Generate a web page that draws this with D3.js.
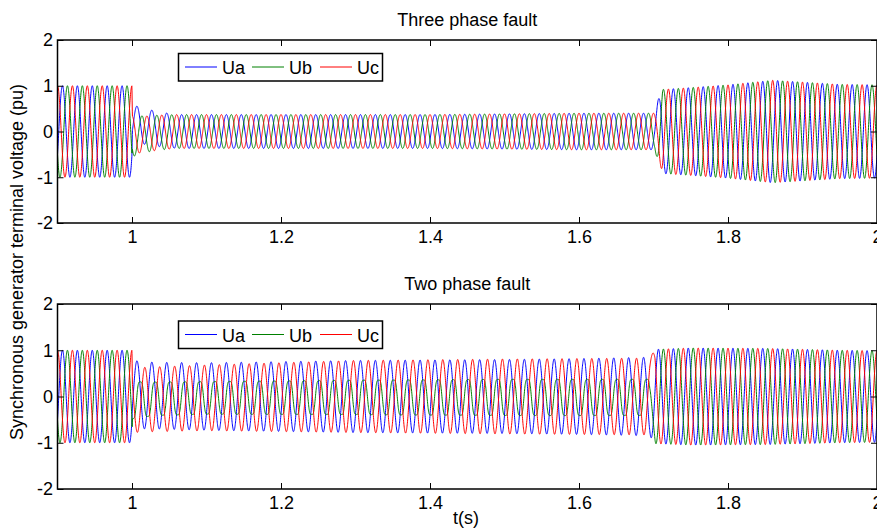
<!DOCTYPE html>
<html><head><meta charset="utf-8">
<script src="https://cdn.jsdelivr.net/npm/d3@7"></script>
<style>
body{margin:0;background:#fff}
svg{display:block}
text{font-family:Arial,"Liberation Sans",sans-serif;fill:#000}
</style>
</head><body><svg id="chart" width="877" height="531"></svg>
<script>
// ---------------- DATA ----------------
const timeRange = [0.9, 2.0];
const yRange = [-2, 2];
const freqHz = 50;
const xTicks = [1, 1.2, 1.4, 1.6, 1.8, 2];
const xTickLabels = ["1", "1.2", "1.4", "1.6", "1.8", "2"];
const yTicks = [-2, -1, 0, 1, 2];
const yTickLabels = ["-2", "-1", "0", "1", "2"];
const seriesNames = ["Ua", "Ub", "Uc"];
const seriesColors = ["#0000ff", "#008000", "#ff0000"];
const basePhaseDeg = [-120, 120, 0];
const panelTitles = ["Three phase fault", "Two phase fault"];
const xLabel = "t(s)";
const yLabel = "Synchronous generator terminal voltage (pu)";

// Three phase fault: envelope readings (peak amplitude, DC offset) per phase
const topTimes  = [0.9, 0.9999, 1.0005, 1.01, 1.02, 1.04, 1.06, 1.40, 1.60, 1.702, 1.706, 1.712, 1.75, 1.80, 1.86, 1.90, 1.95, 2.0];
const topAmpUa  = [1.0, 1.0, 0.42, 0.40, 0.39, 0.38, 0.37, 0.37, 0.40, 0.40, 0.50, 0.92, 0.96, 1.02, 1.12, 1.08, 1.03, 1.02];
const topAmpUb  = [1.0, 1.0, 0.45, 0.42, 0.40, 0.38, 0.37, 0.37, 0.40, 0.40, 0.50, 0.92, 0.96, 1.02, 1.12, 1.08, 1.03, 1.02];
const topAmpUc  = [1.0, 1.0, 0.42, 0.40, 0.39, 0.38, 0.37, 0.37, 0.40, 0.40, 0.50, 0.92, 0.96, 1.02, 1.12, 1.08, 1.03, 1.02];
const topOffUa  = [0, 0, 0.16, 0.14, 0.10, 0.04, 0, 0, 0, 0, 0.18, 0, 0, 0, 0, 0, 0, 0];
const topOffUb  = [0, 0, -0.10, -0.08, -0.05, -0.02, 0, 0, 0, 0, -0.18, 0, 0, 0, 0, 0, 0, 0];
const topOffUc  = [0, 0, -0.08, -0.07, -0.05, -0.02, 0, 0, 0, 0, 0, 0, 0, 0, 0, 0, 0, 0];

// Two phase fault: envelope readings per phase (amplitude, offset, phase shift, flat-top)
const botTimes   = [0.9, 0.9999, 1.0005, 1.03, 1.10, 1.30, 1.50, 1.60, 1.695, 1.702, 1.75, 1.85, 1.95, 2.0];
const botAmpUa   = [1.0, 1.0, 0.74, 0.72, 0.73, 0.78, 0.80, 0.82, 0.85, 1.02, 1.05, 1.04, 1.00, 0.99];
const botAmpUb   = [1.0, 1.0, 0.40, 0.36, 0.35, 0.37, 0.39, 0.39, 0.39, 1.02, 1.05, 1.04, 1.00, 0.99];
const botAmpUc   = [1.0, 1.0, 0.70, 0.70, 0.71, 0.78, 0.81, 0.82, 0.83, 1.02, 1.05, 1.04, 1.00, 0.99];
const botOffUa   = [0, 0, 0.04, 0.02, 0, 0, 0, 0, 0, 0, 0, 0, 0, 0];
const botOffUb   = [0, 0, -0.08, -0.05, -0.03, -0.02, -0.02, -0.02, -0.02, 0, 0, 0, 0, 0];
const botOffUc   = [0, 0, -0.08, -0.06, -0.03, 0, 0, 0, 0, 0, 0, 0, 0, 0];
const botShiftUa = [0, 0, 0, 0, 0, 0, 0, 0, 0, 0, 0, 0, 0, 0];
const botShiftUb = [0, 0, 40, 40, 40, 40, 40, 40, 40, 0, 0, 0, 0, 0];
const botShiftUc = [0, 0, 50, 50, 50, 50, 50, 50, 50, 0, 0, 0, 0, 0];
const botFlatUb  = [0, 0, 0.12, 0.12, 0.12, 0.12, 0.12, 0.12, 0.12, 0, 0, 0, 0, 0];
// ---------------------------------------------------------------

const W = 877, H = 531;
const svg = d3.select("#chart");
const FONT = 18;

const x = d3.scaleLinear().domain(timeRange).range([57.5, 877]);

const zeros = t => t.map(() => 0);
const panels = [
  { title: panelTitles[0], top: 40, bottom: 223, titleY: 26, legendY: 53.5,
    times: topTimes,
    amp: [topAmpUa, topAmpUb, topAmpUc],
    off: [topOffUa, topOffUb, topOffUc],
    shift: [zeros(topTimes), zeros(topTimes), zeros(topTimes)],
    flat: [zeros(topTimes), zeros(topTimes), zeros(topTimes)] },
  { title: panelTitles[1], top: 304, bottom: 489, titleY: 290, legendY: 321,
    times: botTimes,
    amp: [botAmpUa, botAmpUb, botAmpUc],
    off: [botOffUa, botOffUb, botOffUc],
    shift: [botShiftUa, botShiftUb, botShiftUc],
    flat: [zeros(botTimes), botFlatUb, zeros(botTimes)] }
];

const samples = d3.range(timeRange[0], timeRange[1] + 1e-9, 0.0002);

panels.forEach((p, pi) => {
  const y = d3.scaleLinear().domain(yRange).range([p.bottom, p.top]);
  const g = svg.append("g");
  const clipId = "clip" + pi;
  svg.append("clipPath").attr("id", clipId).append("rect")
    .attr("x", x.range()[0]).attr("y", p.top)
    .attr("width", x.range()[1] - x.range()[0]).attr("height", p.bottom - p.top);

  // series
  const lineGen = d3.line().x(d => x(d.t)).y(d => y(d.v));
  seriesNames.forEach((name, si) => {
    const ampS = d3.scaleLinear().domain(p.times).range(p.amp[si]).clamp(true);
    const offS = d3.scaleLinear().domain(p.times).range(p.off[si]).clamp(true);
    const shS = d3.scaleLinear().domain(p.times).range(p.shift[si]).clamp(true);
    const flS = d3.scaleLinear().domain(p.times).range(p.flat[si]).clamp(true);
    const pts = samples.map(t => {
      const th = 2 * Math.PI * freqHz * t + (basePhaseDeg[si] + shS(t)) * Math.PI / 180;
      const k = flS(t);
      const w = (Math.cos(th) - k * Math.cos(3 * th)) / (1 - k);
      return { t, v: ampS(t) * w + offS(t) };
    });
    g.append("path").datum(pts)
      .attr("clip-path", `url(#${clipId})`)
      .attr("fill", "none").attr("stroke", seriesColors[si])
      .attr("stroke-width", 1).attr("d", lineGen);
  });

  // axes (MATLAB style inward ticks)
  const fmtX = d => xTickLabels[xTicks.indexOf(d)];
  const fmtY = d => yTickLabels[yTicks.indexOf(d)];
  const axB = g.append("g").attr("transform", `translate(0,${p.bottom})`)
    .call(d3.axisBottom(x).tickValues(xTicks).tickFormat(fmtX).tickSizeInner(-6).tickSizeOuter(0).tickPadding(7));
  const axT = g.append("g").attr("transform", `translate(0,${p.top})`)
    .call(d3.axisTop(x).tickValues(xTicks).tickFormat("").tickSizeInner(-6).tickSizeOuter(0));
  const axL = g.append("g").attr("transform", `translate(${x.range()[0]},0)`)
    .call(d3.axisLeft(y).tickValues(yTicks).tickFormat(fmtY).tickSizeInner(-6).tickSizeOuter(0).tickPadding(4.5));
  const axR = g.append("g").attr("transform", `translate(${x.range()[1]},0)`)
    .call(d3.axisRight(y).tickValues(yTicks).tickFormat("").tickSizeInner(-6).tickSizeOuter(0));
  [axB, axT, axL, axR].forEach(a => {
    a.select(".domain").remove();
    a.selectAll("line").attr("stroke", "#000").attr("stroke-width", 1);
    a.selectAll("text").attr("font-size", FONT).attr("fill", "#000")
      .attr("font-family", 'Arial,"Liberation Sans",sans-serif');
  });
  g.append("rect").attr("x", x.range()[0]).attr("y", p.top)
    .attr("width", x.range()[1] - x.range()[0]).attr("height", p.bottom - p.top)
    .attr("fill", "none").attr("stroke", "#000").attr("stroke-width", 1.5);

  // title
  svg.append("text").attr("x", (x.range()[0] + x.range()[1]) / 2).attr("y", p.titleY)
    .attr("text-anchor", "middle").attr("font-size", FONT).text(p.title);

  // legend
  const lg = svg.append("g");
  lg.append("rect").attr("x", 178.5).attr("y", p.legendY).attr("width", 204).attr("height", 27.5)
    .attr("fill", "#fff").attr("stroke", "#000").attr("stroke-width", 1.5);
  const entryX = [185, 252, 320];
  seriesNames.forEach((name, si) => {
    lg.append("line").attr("x1", entryX[si]).attr("x2", entryX[si] + 32)
      .attr("y1", p.legendY + 13.5).attr("y2", p.legendY + 13.5)
      .attr("stroke", seriesColors[si]).attr("stroke-width", 1);
    lg.append("text").attr("x", entryX[si] + 37).attr("y", p.legendY + 20.5)
      .attr("font-size", FONT).text(name);
  });
});

// axis labels
svg.append("text").attr("x", 466).attr("y", 524).attr("text-anchor", "middle")
  .attr("font-size", FONT).text(xLabel);
svg.append("text").attr("transform", "translate(23,262) rotate(-90)")
  .attr("text-anchor", "middle").attr("font-size", FONT).text(yLabel);
</script></body></html>
